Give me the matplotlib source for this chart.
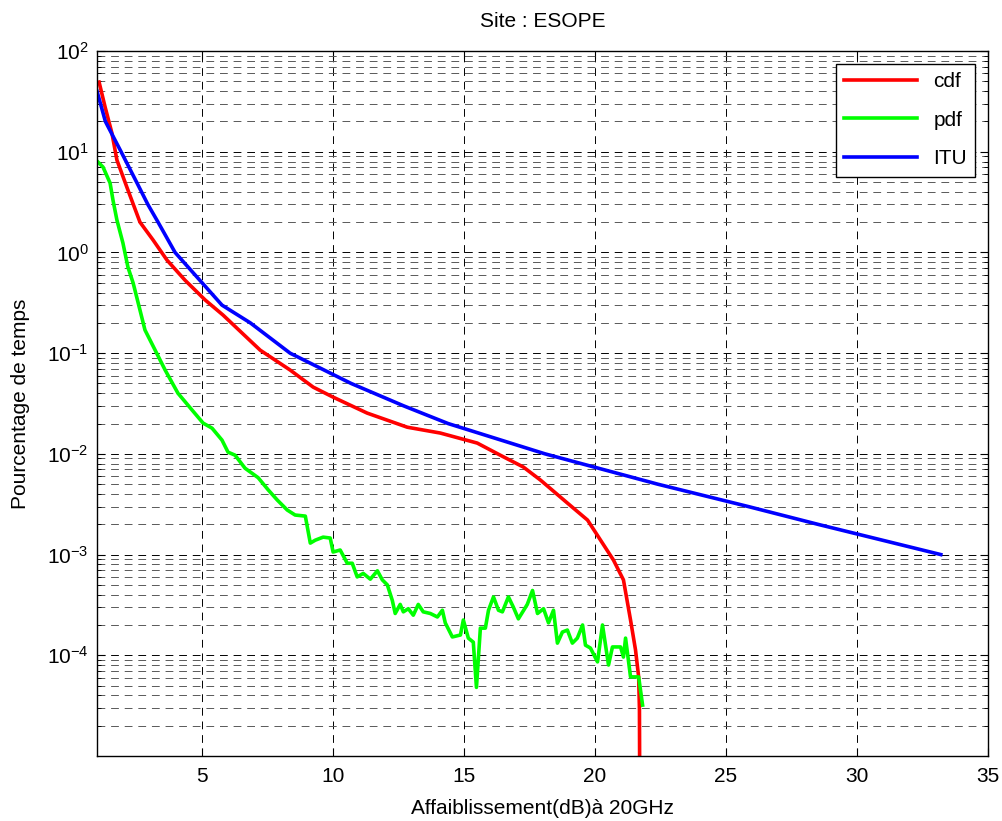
import numpy as np
import matplotlib
matplotlib.use("Agg")
import matplotlib.pyplot as plt
from matplotlib.ticker import LogLocator, NullFormatter, FixedLocator

plt.rcParams['font.family'] = ['Liberation Sans', 'DejaVu Sans']

# cdf curve (attenuation dB, percentage of time)
cdf_x = [1.08, 1.31, 1.57, 1.76, 2.18, 2.64, 3.14, 3.67, 4.36, 5.13, 5.81, 7.23,
         8.37, 9.25, 10.01, 11.31, 12.84, 14.1, 15.51, 16.39, 17.27, 17.92, 18.95,
         19.72, 20.71, 21.09, 21.36, 21.55, 21.67, 21.70, 21.72]
cdf_y = [49.2, 27.8, 15.3, 8.28, 4.17, 2.0, 1.33, 0.84, 0.53, 0.337, 0.239, 0.107,
         0.068, 0.046, 0.0366, 0.0254, 0.0184, 0.0161, 0.0128, 0.0097, 0.0074, 0.0055,
         0.00325, 0.0022, 0.00088, 0.00056, 0.000224, 0.000113, 6.1e-5, 2.9e-5, 1e-6]

# pdf curve
pdf_x = [1.04, 1.23, 1.50, 1.61, 1.76, 1.99, 2.18, 2.38, 2.64, 2.83, 3.22, 3.60,
         4.09, 4.63, 5.05, 5.39, 5.77, 6.00, 6.27, 6.65, 7.15, 7.53, 7.88, 8.26,
         8.56, 8.95, 9.14, 9.33, 9.63, 9.90, 10.01, 10.28, 10.55, 10.74, 10.93, 11.16,
         11.43, 11.70, 11.89, 12.08, 12.27, 12.38, 12.57, 12.69, 12.88, 13.07, 13.26,
         13.45, 13.72, 13.99, 14.18, 14.29, 14.56, 14.87, 14.98, 15.17, 15.36, 15.48,
         15.63, 15.82, 15.94, 16.13, 16.32, 16.47, 16.70, 16.89, 17.08, 17.42, 17.62,
         17.81, 18.04, 18.23, 18.42, 18.57, 18.76, 18.95, 19.14, 19.33, 19.53, 19.64,
         19.83, 20.10, 20.29, 20.52, 20.67, 20.98, 21.09, 21.17, 21.36, 21.55, 21.67,
         21.82]
pdf_y = [7.9, 7.05, 4.89, 3.31, 2.10, 1.24, 0.716, 0.497, 0.268, 0.170, 0.107, 0.068,
         0.040, 0.0272, 0.0202, 0.0180, 0.0137, 0.0104, 0.0097, 0.0072, 0.0058, 0.0044,
         0.00348, 0.00277, 0.00247, 0.00241, 0.0013, 0.00139, 0.00149, 0.00146,
         0.00106, 0.00111, 0.00082, 0.00082, 0.00060, 0.00065, 0.00057, 0.00069,
         0.00056, 0.00050, 0.00035, 0.00026, 0.00032, 0.00027, 0.00029, 0.00025,
         0.00032, 0.00027, 0.00026, 0.00024, 0.00028, 0.00021, 0.000152, 0.000159,
         0.000224, 0.000148, 0.000135, 4.8e-5, 0.000186, 0.000186, 0.00028, 0.00038,
         0.00028, 0.00027, 0.00038, 0.00030, 0.00023, 0.00032, 0.00044, 0.00026,
         0.00029, 0.00021, 0.00028, 0.000132, 0.000170, 0.000178, 0.000132, 0.000148,
         0.000200, 0.000126, 0.000118, 8.6e-5, 0.000200, 8.0e-5, 0.000121, 0.000121,
         9.6e-5, 0.000148, 6.1e-5, 6.1e-5, 6.1e-5, 3.2e-5]

# ITU model
itu_p = [40, 20, 10, 5, 3, 2, 1, 0.5, 0.3, 0.2, 0.1, 0.05, 0.03, 0.02, 0.01,
         0.005, 0.003, 0.002, 0.001]
itu_a = [1.0, 1.32, 1.92, 2.51, 2.94, 3.33, 3.98, 5.01, 5.77, 6.85, 8.37, 10.7,
         12.7, 14.4, 18.1, 22.4, 25.85, 28.5, 33.2]

fig = plt.figure(figsize=(10.02, 8.21), dpi=100)
ax = fig.add_axes([0.0968, 0.0792, 0.8892, 0.8586])

ax.semilogy(cdf_x, cdf_y, color='#ff0000', lw=2.6, label='cdf')
ax.semilogy(pdf_x, pdf_y, color='#00ff00', lw=2.6, label='pdf')
ax.semilogy(itu_a, itu_p, color='#0000ff', lw=2.6, label='ITU')

ax.set_xlim(1, 35)
ax.set_ylim(1e-5, 1e2)
ax.set_xticks([5, 10, 15, 20, 25, 30, 35])
ax.yaxis.set_major_locator(FixedLocator([1e-4, 1e-3, 1e-2, 1e-1, 1, 10, 100]))
ax.yaxis.set_minor_locator(LogLocator(base=10, subs=np.arange(2, 10), numticks=20))
ax.yaxis.set_minor_formatter(NullFormatter())

ax.grid(True, which='major', color='k', lw=0.7, linestyle=(0, (8, 6)))
ax.grid(True, which='minor', axis='y', color='0.35', lw=0.7, linestyle=(0, (8, 6)))

ax.tick_params(which='both', direction='in', top=True, right=True, labelsize=15)
ax.tick_params(which='major', length=6)
ax.tick_params(which='minor', length=3)
ax.tick_params(axis='x', pad=8)
ax.tick_params(axis='y', pad=6)
for s in ax.spines.values():
    s.set_linewidth(1.0)

ax.set_title('Site : ESOPE', fontsize=15, pad=17)
ax.set_xlabel('Affaiblissement(dB)à 20GHz', fontsize=15, labelpad=9)
ax.set_ylabel('Pourcentage de temps', fontsize=15, labelpad=12)

leg = ax.legend(loc='upper right', fontsize=15, fancybox=False, framealpha=1,
                edgecolor='k', handlelength=3.5, labelspacing=0.95,
                borderaxespad=0.6)
leg.get_frame().set_linewidth(1.0)

fig.savefig('out.png', dpi=100)
